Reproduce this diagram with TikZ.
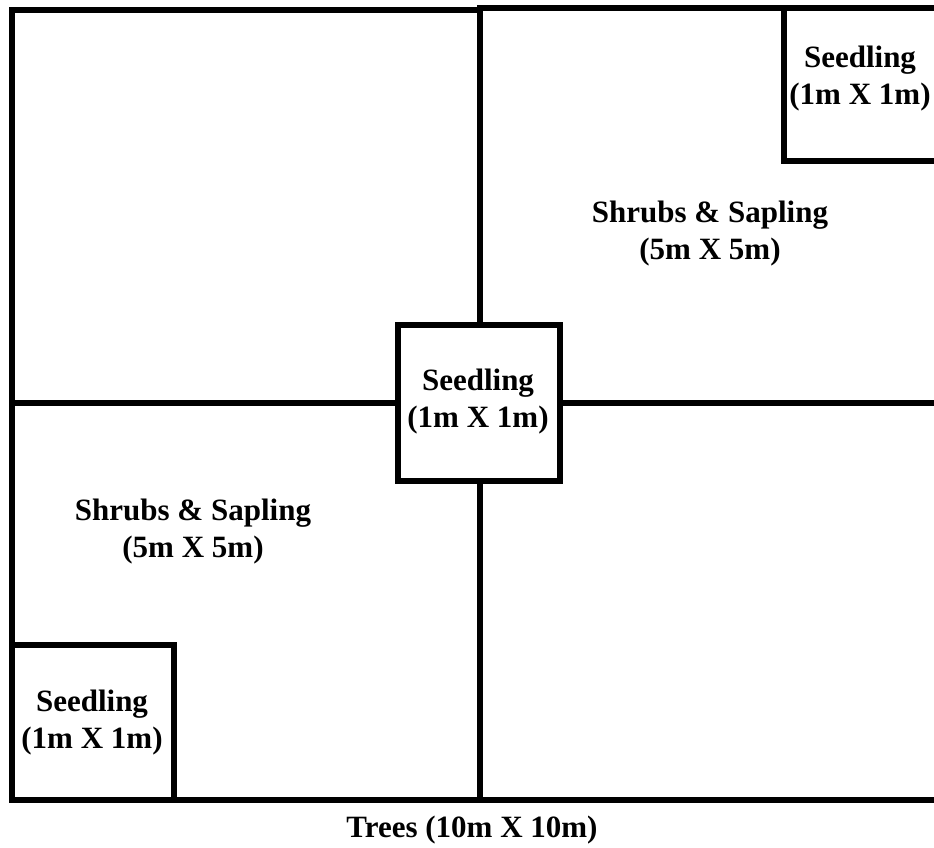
\documentclass[tikz,border=0pt]{standalone}
\usepackage{fontspec}
\setmainfont{Liberation Serif}
\begin{document}
\begin{tikzpicture}[x=1pt,y=-1pt,
  wall/.style={line width=6pt,line cap=rect},
  lbl/.style={align=center,inner sep=0pt,font=\bfseries\fontsize{31}{37}\selectfont}]
\useasboundingbox (0,0) rectangle (934,848);
\clip (0,0) rectangle (934,848);
% outer plot
\draw[wall] (12,800) -- (12,10) -- (480,10);
\draw[wall] (480,8) -- (945,8);
\draw[wall] (12,800) -- (945,800);
% dividing lines
\draw[wall] (480,8) -- (480,800);
\draw[wall] (12,403) -- (945,403);
% seedling boxes
\draw[wall,fill=white] (398,325) rectangle (560,481);
\draw[wall] (12,645) -- (174,645) -- (174,800);
\draw[wall] (784,8) -- (784,161) -- (945,161);
% labels
\node[lbl] (s1) at (860,79) {Seedling\\(1m X 1m)};
\node[lbl] (sh1) at (710,234) {Shrubs \& Sapling\\(5m X 5m)};
\node[lbl] (s2) at (478,402) {Seedling\\(1m X 1m)};
\node[lbl] (sh2) at (193,532) {Shrubs \& Sapling\\(5m X 5m)};
\node[lbl] (s3) at (92,723) {Seedling\\(1m X 1m)};
\node[lbl] (t) at (472,830) {Trees (10m X 10m)};
\end{tikzpicture}
\end{document}
